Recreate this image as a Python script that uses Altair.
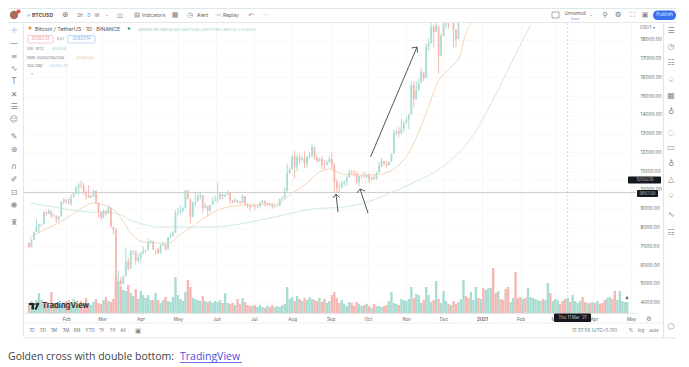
import altair as alt
import pandas as pd

# ---- candle values, one reading every second day from 2 Jan 2020 ----
closes = [6950,7350,7760,8050,8180,8190,8820,8720,8900,8630,8650,8430,8590,9370,9500,
 9380,9290,9600,9810,10150,10270,10230,9890,9700,9600,9690,9960,9310,8780,8520,
 8900,8760,9070,8040,7880,4800,5170,5000,5400,6190,5800,6740,6760,6250,6400,
 6640,6740,6780,7200,7290,6860,6860,6620,7030,7130,6840,7480,7540,7740,8770,
 8830,8900,9030,9980,9540,8560,9310,9380,9670,9730,9060,9170,8900,9200,9420,9450,
 9510,9800,9660,9760,9890,9460,9330,9460,9380,9300,9680,9280,9170,9110,9135,
 9090,9130,9340,9430,9280,9300,9250,9130,9160,9160,9520,9550,9930,10910,11100,
 11800,11220,11750,11600,11680,11390,11770,11850,12300,11750,11520,11650,11330,11320,11470,11650,
 11300,10460,10100,10090,10330,10440,10670,10950,10930,10920,10420,10730,10730,10700,10780,
 10570,10670,10600,10920,11300,11550,11430,11320,11500,11910,12990,13120,13030,13270,13550,
 13750,14030,15590,14830,15330,15700,16300,15960,17650,17800,18680,18420,18720,17150,18200,
 18770,19200,19150,19170,18540,18030,19170,19420]
highs = [7210,7400,7800,8450,8200,8200,8880,8900,9000,8750,8760,8520,8600,9420,9570,
 9490,9600,9770,9870,10180,10380,10500,10380,9980,10250,9770,10000,9970,9000,8890,
 8950,8900,9160,8890,8000,7950,5700,5370,5450,6900,6400,6800,6780,6300,6600,
 6680,7000,6830,7420,7330,6950,6880,6930,7150,7250,6950,7500,7700,7800,8950,
 9050,9190,9100,9990,9920,9500,9400,9840,9880,9900,9560,9300,9000,9200,9600,9700,
 10400,9880,9730,9800,10000,9550,9480,9570,9480,9400,9780,9670,9300,9190,9200,
 9260,9190,9370,9460,9300,9340,9280,9220,9190,9200,9540,9660,10150,11400,11180,
 11850,12100,11900,11900,11800,12070,11800,12000,12480,12200,11880,11720,11780,11600,11570,11800,
 12000,11450,10570,10400,10500,10480,10760,11100,11040,11050,10450,10760,10800,10950,10850,
 10900,10700,10800,10960,11490,11700,11560,11550,11520,11950,13200,13200,13350,13800,13650,
 13900,14080,15760,15800,15800,15950,16500,16150,17800,18100,18960,18780,19400,17460,18350,
 19900,19500,19200,19400,18640,18300,19400,19500]
lows = [6900,7250,7350,7900,7700,8050,8150,8600,8720,8500,8550,8250,8300,8850,9220,
 9300,9220,9150,9700,9800,9730,10080,9750,9500,9570,9550,9600,9250,8530,8400,
 8490,8650,8780,8000,7630,4400,4900,4440,5050,5670,5730,6370,6530,6020,6150,
 6200,6600,6650,7100,7150,6780,6560,6600,6900,7050,6750,7000,7450,7650,7720,
 8630,8700,8800,9030,9500,8200,8800,9130,9580,9480,8800,9000,8630,8810,9340,9400,
 9300,9500,9500,9600,9700,9220,9280,9360,9280,9200,9300,9200,9050,8900,9090,
 8950,9050,9050,9250,9120,9150,9110,9000,9050,9100,9300,9450,9650,10550,10850,
 11200,10600,11000,11350,11500,11150,11200,11700,11700,11600,11500,11530,11110,11100,11320,11500,
 11100,9900,9830,9850,10150,10200,10200,10650,10800,10700,10300,10200,10600,10650,10650,
 10370,10500,10530,10540,11000,11200,11280,11200,11300,11500,12680,12900,12800,12950,13100,
 13600,13250,14100,14400,14800,15300,15950,15800,16400,17400,18000,17600,18500,16200,17500,
 18200,18600,18600,18900,17560,17600,18700,19000]
first_open = 7200

# ---- volume bar heights, same two-day steps, to 29 Apr 2021 ----
volumes = [10,12,9,13,20,13,9,11,8,21,10,9,9,8,10,12,13,11,14,8,9,12,10,15,9,8,11,14,10,9,13,16,12,11,14,
 37,32,26,23,22,28,20,17,24,14,22,18,15,18,13,13,20,13,10,13,16,12,11,16,36,18,14,12,21,33,26,15,14,13,12,
 17,12,11,12,10,12,11,13,10,20,10,9,10,8,14,9,15,11,8,7,7,8,6,8,6,5,7,6,8,6,7,6,8,9,26,14,16,12,17,14,12,15,
 13,16,14,13,12,15,11,14,10,12,18,21,15,10,13,9,7,11,10,7,11,9,7,8,9,7,5,9,7,7,6,7,8,12,21,10,9,8,14,13,12,14,
 26,15,19,18,10,13,26,18,11,13,32,14,10,22,12,9,8,12,9,11,14,33,17,15,21,13,26,15,14,25,23,25,25,45,20,22,14,
 13,24,26,11,15,41,15,16,14,15,25,16,15,14,13,12,14,13,30,20,12,14,13,9,12,14,15,11,18,12,10,12,16,11,10,10,
 11,10,12,9,10,13,15,16,14,22,13,22,12,11,11]
late_dirs = ("u d d u u u d u d u u u d d u d d d d u u d d d u d u u u u u u d u u d u u u "
             "d d d u d u u u u d d u d u d u d d d u u d d u u u").split()

# ---- moving averages ----
ema_dates = ["2020-01-02","2020-01-17","2020-01-26","2020-02-05","2020-02-15","2020-02-23","2020-03-08",
 "2020-03-16","2020-03-24","2020-04-03","2020-04-13","2020-04-24","2020-05-02","2020-05-12","2020-05-26",
 "2020-06-07","2020-06-26","2020-07-20","2020-07-30","2020-08-13","2020-08-23","2020-08-31","2020-09-10",
 "2020-09-21","2020-10-04","2020-10-15","2020-10-26","2020-11-03","2020-11-09","2020-11-18","2020-11-26",
 "2020-12-07","2020-12-14","2020-12-18","2020-12-24"]
ema_vals = [7444,7977,8243,8669,9095,9308,9042,8509,7710,7231,7178,7178,7604,8030,8669,9042,9201,9255,
 9734,10373,10958,11118,10852,10799,10799,10905,11331,11970,12769,14260,15700,16550,17080,18150,18950]
ma_dates = ["2020-01-03","2020-01-22","2020-02-18","2020-03-10","2020-03-28","2020-04-16","2020-05-10",
 "2020-05-30","2020-06-29","2020-07-25","2020-08-18","2020-09-12","2020-09-28","2020-10-19","2020-11-08",
 "2020-11-30","2020-12-24","2021-01-11","2021-01-27","2021-02-09"]
ma_vals = [9308,9095,8828,8775,8296,8030,8030,8030,8296,8669,8988,9095,9308,9840,10426,11225,12822,14952,17082,18786]

y_ticks = [18000,17000,16000,15000,14000,13000,12000,11000,10000,9000,8000,7000,6000,5000,4000]
x_ticks = ["2020-02-01","2020-03-01","2020-04-01","2020-05-01","2020-06-01","2020-07-01","2020-08-01","2020-09-01",
           "2020-10-01","2020-11-01","2020-12-01","2021-01-01","2021-02-01","2021-03-01","2021-04-01","2021-05-01"]
last_price = [9867]
dotted_price = [10500]
cross_date = ["2021-03-11"]

dates = pd.date_range("2020-01-02", periods=len(volumes), freq="2D").strftime("%Y-%m-%d").tolist()
opens = [first_open] + closes[:-1]
candles = pd.DataFrame({"date": dates[:len(closes)], "open": opens, "close": closes, "high": highs, "low": lows})
candles["dir"] = ["u" if c >= o else "d" for o, c in zip(opens, closes)]
vol_dirs = candles["dir"].tolist() + late_dirs
vol = pd.DataFrame({"date": dates, "vol": volumes, "dir": (vol_dirs + ["u"] * len(volumes))[:len(volumes)]})

W, H = 612, 290
OX, OY = 24, 23
xs = alt.Scale(domain=["2020-01-02", "2021-05-01"])
ys = alt.Scale(domain=[3450, 18892])
cs_candle = alt.Scale(domain=["u", "d"], range=["#86cfc1", "#f0a8a4"])
cs_vol = alt.Scale(domain=["u", "d"], range=["#aadcd2", "#f6b8b2"])

x_axis = alt.Axis(
    values=x_ticks, orient="bottom", grid=True, gridColor="#f7f7f7", domain=True, domainColor="#e6e6e6", ticks=False,
    labelExpr="month(datum.value)==0 ? '2021' : timeFormat(datum.value,'%b')",
    labelFontWeight={"expr": "month(datum.value)==0 ? 'bold' : 'normal'"},
    labelFontSize=4.6, labelColor="#666666", labelFont="Inter", labelPadding=3, title=None, labelOverlap=False)
price_axis = alt.Axis(values=y_ticks, orient="right", title=None, format=".2f", domain=False, ticks=False,
                      labelFontSize=4.8, labelColor="#666666", labelFont="Inter", labelPadding=4,
                      grid=True, gridColor="#f9f9f9", labelOverlap=False)
X = alt.X("date:T", scale=xs, title=None, axis=x_axis)
def Yq(field):
    return alt.Y(field, scale=ys, axis=price_axis, title=None)

one = alt.Data(values=[{"a": 1}])
FONT = "Inter"

def T(s, x, y, size=5, color="#777777", align="left", weight="normal", font=FONT):
    return alt.Chart(one).mark_text(text=s, fontSize=size, color=color, align=align, baseline="middle",
                                    fontWeight=weight, font=font).encode(x=alt.value(x - OX), y=alt.value(y - OY))

def L(x1, y1, x2, y2, color="#e4e4e4", size=1):
    return alt.Chart(one).mark_rule(color=color, size=size).encode(
        x=alt.value(x1 - OX), x2=alt.value(x2 - OX), y=alt.value(y1 - OY), y2=alt.value(y2 - OY))

def R(x1, y1, x2, y2, fill="#ffffff", stroke=None, radius=0):
    kw = {"stroke": stroke, "strokeWidth": 0.7} if stroke else {}
    return alt.Chart(one).mark_rect(fill=fill, cornerRadius=radius, **kw).encode(
        x=alt.value(x1 - OX), x2=alt.value(x2 - OX), y=alt.value(y1 - OY), y2=alt.value(y2 - OY))

def C(x, y, area, color):
    return alt.Chart(one).mark_circle(size=area, color=color, opacity=1).encode(x=alt.value(x - OX), y=alt.value(y - OY))

# ---- data layers ----
volume = alt.Chart(vol).mark_bar(size=2.4).encode(
    x=X, y=alt.Y("vol:Q", scale=alt.Scale(domain=[0, H]), axis=None),
    color=alt.Color("dir:N", scale=cs_vol, legend=None))

wicks = alt.Chart(candles).mark_rule(size=1, clip=True).encode(
    x=X, y=Yq("low:Q"), y2="high:Q", color=alt.Color("dir:N", scale=cs_candle, legend=None))
bodies = alt.Chart(candles).mark_bar(size=1.8, clip=True).encode(
    x=X, y=Yq("open:Q"), y2="close:Q", color=alt.Color("dir:N", scale=cs_candle, legend=None))
ema = alt.Chart(pd.DataFrame({"date": ema_dates, "v": ema_vals})).mark_line(
    color="#f8d5b5", strokeWidth=1, clip=True, interpolate="monotone").encode(x=X, y=Yq("v:Q"))
ma = alt.Chart(pd.DataFrame({"date": ma_dates, "v": ma_vals})).mark_line(
    color="#cdeae4", strokeWidth=1, clip=True, interpolate="monotone").encode(x=X, y=Yq("v:Q"))
hline = alt.Chart(pd.DataFrame({"v": last_price})).mark_rule(color="#cfcfcf", size=1).encode(y=Yq("v:Q"))
dotted = alt.Chart(pd.DataFrame({"v": dotted_price})).mark_rule(color="#e6e6e6", size=0.7, strokeDash=[1, 2]).encode(y=Yq("v:Q"))
cross = alt.Chart(pd.DataFrame({"date": cross_date})).mark_rule(color="#c4c4c4", size=0.7, strokeDash=[2, 2]).encode(x=X)

prices = alt.layer(dotted, hline, cross, ma, ema, wicks, bodies)
core = alt.layer(volume, prices).resolve_scale(y="independent")

# ---- chrome ----
chrome = [
    # frame
    L(8, 8, 676, 8, "#cfe3e0", 1.5), L(8, 22.5, 676, 22.5, "#e6e6e6"), L(23.5, 22, 23.5, 337, "#e6e6e6"),
    L(24, 323, 663, 323, "#eeeeee"), L(24, 338, 676, 338, "#e4e4e4", 1.2), L(663.5, 22, 663.5, 338, "#e4e4e4", 1.2),
    # top bar
    C(14, 15, 70, "#a86f5c"), C(18.5, 11.5, 18, "#e5534b"),
    T("⌕", 27, 15, 7), T("BTCUSD", 32, 15, 5.2, "#555555", weight="bold"), T("⊕", 65, 15, 8, "#777777", "center", font="DejaVu Sans"),
    T("2h", 80, 15, 5, "#777777", "center"), T("D", 89, 15, 5, "#5b8def", "center"), T("W", 97, 15, 5, "#777777", "center"),
    T("⌄", 107, 14, 5, "#888888", "center", font="DejaVu Sans"), T("▯▯", 120, 15, 5.5, "#777777", "center", font="DejaVu Sans"),
    T("▤", 137, 15, 6.5, "#888888", "center", font="DejaVu Sans"), T("Indicators", 142, 15, 5, "#666666"),
    T("▦", 175, 15, 7, "#888888", "center", font="DejaVu Sans"), T("◷", 190, 15, 7, "#777777", "center", font="DejaVu Sans"),
    T("Alert", 197, 15, 5, "#666666"), T("◁◁", 218, 15, 4, "#777777", "center", font="DejaVu Sans"), T("Replay", 223, 15, 5, "#666666"),
    T("↶", 251, 15, 6, "#888888", "center", font="DejaVu Sans"), T("↷", 265, 15, 6, "#dddddd", "center", font="DejaVu Sans"),
    R(552, 12, 559, 18, "#ffffff", "#888888"), T("Unnamed", 575, 13.5, 4.6, "#666666", "center"), T("Save", 575, 18.5, 3.6, "#6d9ee8", "center"),
    T("⌄", 591, 14, 5, "#888888", "center", font="DejaVu Sans"), T("⚲", 605, 15, 7, "#777777", "center", font="DejaVu Sans"),
    T("⚙", 618, 15, 7.5, "#777777", "center", font="DejaVu Sans"), T("⛶", 632, 15, 7, "#888888", "center", font="DejaVu Sans"),
    T("▣", 645, 15, 7, "#888888", "center", font="DejaVu Sans"),
    R(653, 10.5, 676, 20, "#3b6ff0", None, 4.5), T("Publish", 664.5, 15.3, 4.8, "#dfe8ff", "center"),
    # legend
    C(30, 28, 10, "#e9953a"), T("Bitcoin / TetherUS · 1D · BINANCE", 35, 29, 5.4, "#555555"), C(129, 28.5, 7, "#3aa58f"),
    T("O55851.59 H58150.00 L54273.82 C57773.16 +1921.57 (+3.44%)", 138, 29.5, 3.9, "#87cbbd"),
    R(28, 35.5, 53, 43, "#ffffff", "#f2b7b3", 1), T("25923.13", 40.5, 39.3, 4.2, "#e58a86", "center"),
    T("0.01", 57, 39.3, 3.6, "#888888"),
    R(68, 35.5, 95, 43, "#ffffff", "#a9c8f2", 1), T("25923.14", 81.5, 39.3, 4.2, "#6d9ee8", "center"),
    T("Vol · BTC", 27, 48.5, 3.9, "#777777"), T("81.815K", 52, 48.5, 3.9, "#9ad4c8"),
    T("EMA 20/50/100/200", 27, 57.5, 3.9, "#777777"), T("45467.84", 76, 57.5, 3.9, "#f2bf8e"),
    T("200 Day", 27, 66, 3.9, "#777777"), T("28494.43", 50, 66, 3.9, "#a9d4ea"),
    T("⌃", 32, 74.5, 5, "#777777", "center", font="DejaVu Sans"),
    # price-axis extras
    T("USDT ▾", 640, 27.5, 4.3, "#666666"),
    R(628, 176.5, 661, 183.5, "#15181f", None, 1), T("10500.16", 645, 180.2, 4.2, "#bbbbbb", "center"),
    R(637, 190, 658, 197, "#15181f", None, 1), T("9867.00", 647.5, 193.7, 4.2, "#bbbbbb", "center"),
    # date tag
    R(554, 313.5, 591, 322, "#15181f", None, 1), T("Thu 11 Mar '21", 572.5, 318, 4.2, "#cccccc", "center"),
    T("⚙", 649, 318.5, 6.5, "#888888", "center", font="DejaVu Sans"),
    C(627, 298, 45, "#ffffff"), C(627, 298, 8, "#777777"),
    # logo
    R(29, 303, 34.5, 305, "#222222"), R(31.5, 303, 34, 309.5, "#222222"), C(36, 304, 3.5, "#222222"),
    L(38.5, 303, 35.5, 309.5, "#222222", 2), T("TradingView", 42, 306, 7.6, "#333333", weight="bold"),
    # arrows
    L(370.5, 157, 417, 47, "#555555", 1), L(417, 47, 411.5, 48, "#555555", 1), L(417, 47, 417.5, 52.5, "#555555", 1),
    L(368, 213, 360, 189, "#555555", 1), L(360, 189, 357, 193, "#555555", 1), L(360, 189, 365, 191, "#555555", 1),
    L(338, 212, 336, 194, "#555555", 1), L(336, 194, 333, 198, "#555555", 1), L(336, 194, 339.5, 197.5, "#555555", 1),
    # bottom bar
    T("12:37:56 (UTC+5:30)", 572, 330.5, 4.6, "#777777"), T("%", 631, 330.5, 4.8, "#777777", "center"),
    T("log", 641, 330.5, 4.6, "#777777", "center"), T("auto", 654, 330.5, 4.6, "#777777", "center"),
    T("▣", 138, 330.5, 6.5, "#888888", "center", font="DejaVu Sans"),
    # caption
    T("Golden cross with double bottom:", 8, 357, 10.5, "#444444", font="Open Sans"),
    T("TradingView", 180, 357, 10.5, "#4a4fe0", font="Open Sans"), L(180, 362.5, 242, 362.5, "#4a4fe0", 0.8),
]
for lbl, xp in zip(["1D", "5D", "1M", "3M", "6M", "YTD", "1Y", "5Y", "All"], [32, 43, 54, 66, 77, 90, 102, 113, 123]):
    chrome.append(T(lbl, xp, 330.5, 4.6, "#777777", "center"))
left_icons = [("✛", 31, "#b8c8e8"), ("—", 44, "#888888"), ("≡", 57, "#888888"), ("∿", 69, "#888888"), ("T", 82, "#888888"),
              ("✕", 95, "#777777"), ("☰", 107, "#888888"), ("☺", 120, "#888888"), ("✎", 137, "#888888"), ("⊕", 150, "#888888"),
              ("∩", 167, "#888888"), ("✐", 180, "#888888"), ("⊡", 193, "#888888"), ("◉", 205, "#999999"), ("♜", 223, "#999999")]
for g, yp, col in left_icons:
    chrome.append(T(g, 14, yp, 8, col, "center", font="DejaVu Sans"))
right_icons = [("☰", 31), ("◷", 47), ("☷", 63), ("♤", 80), ("▦", 96), ("♁", 112), ("◌", 133), ("▭", 148), ("♁", 164), ("△", 180),
               ("♤", 196), ("∿", 215), ("☷", 233), ("⬡", 327)]
for g, yp in right_icons:
    chrome.append(T(g, 671, yp, 8, "#888888", "center", font="DejaVu Sans"))

chart = alt.layer(core, *chrome).properties(
    width=W, height=H, autosize="none",
    padding={"left": 16, "top": 15, "right": 45, "bottom": 52},
    background="#ffffff",
).configure_view(stroke=None)

chart.save("out.html", embed_options={"renderer": "svg", "actions": False})
